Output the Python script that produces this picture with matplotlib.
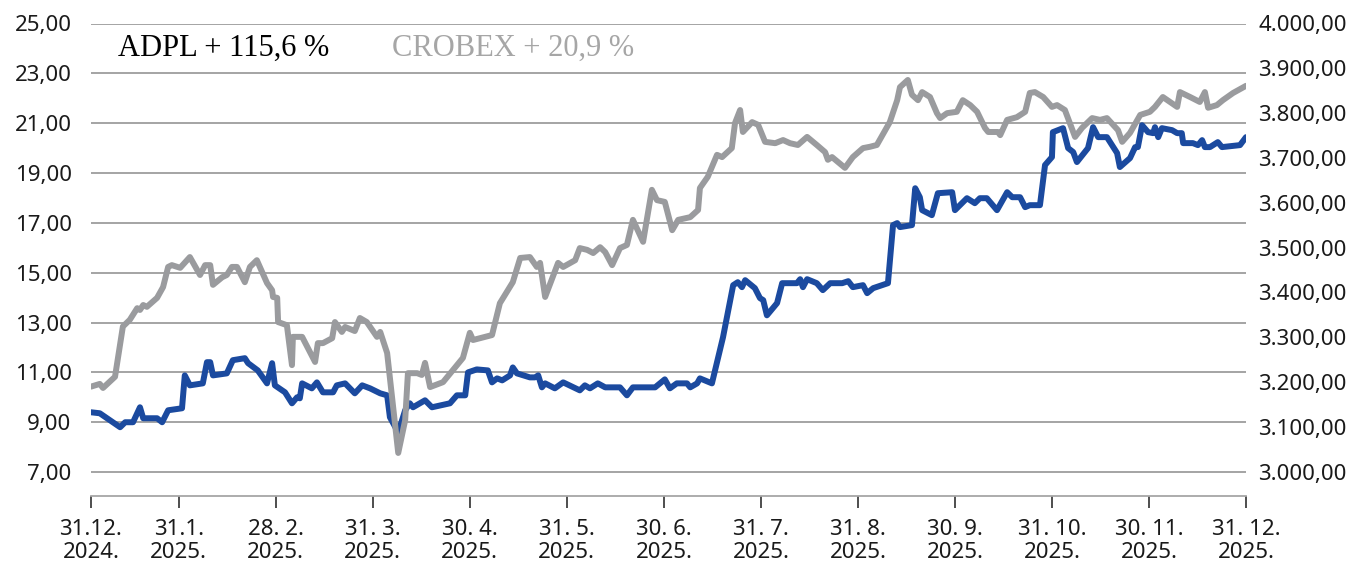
#!/usr/bin/env python3
"""ADPL share price vs CROBEX index, 31.12.2024 - 31.12.2025 (two y-axes)."""

import matplotlib
matplotlib.use('Agg')
import matplotlib.pyplot as plt

# x = trading-day index (0 = 31.12.2024, 250 = 31.12.2025)
adpl_x = [0, 1.9, 4.1, 6.3, 7.4, 9.1, 10.6, 11.3, 14.3, 15.4, 16.7, 19.7, 20.3, 21.4, 24.2,
          25.1, 25.8, 26.4, 29.4, 30.7, 33.3, 34.0, 36.1, 38.1, 39.2, 39.8, 42.0, 43.5, 44.6,
          45.2, 45.7, 47.8, 48.9, 50.2, 52.4, 53.2, 55.0, 57.1, 58.7, 60.4, 62.6, 64.1, 64.7,
          66.5, 68.0, 69.0, 69.7, 72.3, 73.8, 77.7, 79.2, 81.0, 81.6, 83.5, 85.9, 86.8, 87.9,
          89.0, 90.7, 91.3, 92.2, 95.0, 96.1, 96.8, 97.6, 98.3, 100.4, 102.2, 105.8, 106.9,
          108.0, 109.7, 111.3, 114.5, 116.0, 117.3, 122.1, 124.2, 125.3, 126.8, 129.0, 129.7,
          131.2, 131.8, 134.4, 136.8, 139.0, 140.0, 140.9, 141.6, 143.7, 144.8, 145.5, 146.3,
          148.5, 149.6, 152.8, 153.5, 154.1, 155.0, 157.1, 158.4, 160.0, 162.6, 163.9, 164.9,
          167.1, 168.0, 169.3, 172.5, 173.6, 174.5, 175.1, 177.7, 178.4, 179.4, 179.9, 182.0,
          183.3, 186.4, 187.0, 189.6, 191.3, 192.4, 193.9, 196.1, 198.3, 199.4, 201.1, 202.2,
          203.2, 205.4, 206.5, 208.0, 208.2, 210.4, 211.5, 212.6, 213.4, 215.8, 216.9, 218.0,
          219.9, 222.1, 222.7, 224.9, 226.0, 226.6, 227.5, 228.8, 229.9, 230.3, 231.0, 231.8,
          234.0, 235.1, 236.1, 236.4, 238.5, 239.6, 240.5, 241.1, 242.2, 243.9, 244.8, 248.7,
          250]
adpl = [9.40, 9.36, 9.08, 8.80, 9.00, 9.00, 9.60, 9.16, 9.16, 9.00, 9.48, 9.56, 10.88, 10.48,
        10.56, 11.41, 11.41, 10.88, 10.96, 11.49, 11.57, 11.37, 11.08, 10.56, 11.37, 10.48,
        10.20, 9.76, 10.00, 9.96, 10.56, 10.36, 10.60, 10.20, 10.20, 10.48, 10.56, 10.16,
        10.48, 10.36, 10.16, 10.08, 9.20, 8.59, 9.48, 9.76, 9.60, 9.88, 9.60, 9.76, 10.08,
        10.08, 11.00, 11.12, 11.08, 10.60, 10.76, 10.68, 10.88, 11.20, 10.96, 10.80, 10.80,
        10.88, 10.40, 10.56, 10.36, 10.60, 10.28, 10.48, 10.36, 10.56, 10.40, 10.40, 10.08,
        10.40, 10.40, 10.72, 10.36, 10.56, 10.56, 10.40, 10.56, 10.76, 10.56, 12.41, 14.50,
        14.62, 14.42, 14.70, 14.38, 13.98, 13.90, 13.29, 13.78, 14.58, 14.58, 14.74, 14.42,
        14.74, 14.58, 14.30, 14.58, 14.58, 14.66, 14.42, 14.50, 14.18, 14.38, 14.58, 16.91,
        16.99, 16.83, 16.91, 18.39, 18.03, 17.51, 17.31, 18.19, 18.23, 17.51, 17.99, 17.79,
        17.99, 17.99, 17.51, 18.23, 18.03, 18.03, 17.63, 17.71, 17.71, 19.32, 19.64, 20.64,
        20.80, 20.00, 19.84, 19.44, 20.00, 20.84, 20.44, 20.44, 19.80, 19.24, 19.60, 20.04,
        20.04, 20.92, 20.64, 20.60, 20.84, 20.44, 20.80, 20.72, 20.60, 20.60, 20.20, 20.20,
        20.12, 20.32, 20.04, 20.04, 20.24, 20.04, 20.12, 20.44]

crobex_x = [0, 1.9, 2.6, 5.2, 6.9, 8.4, 10.0, 10.6, 11.3, 12.1, 14.3, 15.6, 16.7, 17.5, 19.3,
            21.4, 23.6, 24.7, 25.8, 26.4, 28.4, 29.4, 30.5, 31.6, 33.3, 34.4, 35.9, 38.1, 39.2,
            39.4, 40.3, 40.5, 42.4, 43.5, 43.7, 45.7, 48.5, 49.1, 50.2, 52.2, 52.8, 54.3, 55.0,
            57.1, 58.2, 59.7, 61.9, 62.6, 64.1, 66.5, 68.0, 68.6, 70.6, 71.6, 72.3, 73.4, 76.2,
            80.5, 82.0, 82.7, 86.8, 88.5, 91.3, 92.9, 95.0, 96.5, 97.2, 98.3, 101.1, 102.2,
            104.8, 105.8, 107.4, 108.7, 110.2, 111.3, 112.8, 114.5, 116.0, 117.3, 119.5, 121.4,
            122.5, 124.2, 125.8, 127.1, 129.7, 131.4, 131.8, 133.5, 135.5, 136.6, 138.7, 139.4,
            140.5, 141.1, 143.1, 144.4, 145.9, 148.1, 149.8, 151.3, 153.0, 155.0, 157.1, 158.9,
            159.5, 160.4, 163.2, 164.9, 167.1, 168.6, 170.1, 172.9, 174.5, 175.1, 176.8, 177.7,
            179.0, 179.9, 181.6, 183.1, 183.8, 185.3, 187.4, 188.7, 190.3, 191.8, 193.5, 194.2,
            196.3, 196.8, 198.3, 200.4, 202.2, 203.2, 204.3, 206.1, 208.0, 209.1, 210.8, 213.0,
            214.5, 216.7, 218.4, 219.9, 222.3, 223.2, 224.9, 227.1, 229.2, 230.3, 232.0, 235.1,
            235.7, 237.9, 240.0, 241.1, 241.8, 243.7, 245.0, 247.2, 250]
crobex = [3190, 3196, 3187, 3212, 3324, 3339, 3365, 3361, 3372, 3368, 3388, 3412, 3457, 3461,
          3455, 3479, 3439, 3461, 3461, 3417, 3434, 3439, 3457, 3457, 3423, 3457, 3472, 3421,
          3405, 3390, 3388, 3334, 3327, 3238, 3301, 3301, 3245, 3287, 3287, 3298, 3334, 3312,
          3323, 3314, 3343, 3334, 3301, 3312, 3265, 3042, 3115, 3220, 3220, 3216, 3243, 3189,
          3200, 3254, 3310, 3294, 3305, 3376, 3423, 3477, 3479, 3457, 3466, 3390, 3466, 3457,
          3472, 3499, 3495, 3488, 3501, 3490, 3461, 3499, 3506, 3562, 3513, 3629, 3606, 3602,
          3539, 3562, 3568, 3584, 3633, 3658, 3707, 3702, 3722, 3778, 3807, 3758, 3780, 3774,
          3736, 3733, 3740, 3733, 3729, 3747, 3729, 3713, 3696, 3702, 3678, 3702, 3722, 3725,
          3729, 3780, 3829, 3858, 3874, 3841, 3829, 3847, 3836, 3800, 3789, 3800, 3803, 3829,
          3818, 3803, 3767, 3758, 3758, 3751, 3785, 3791, 3803, 3845, 3847, 3836, 3814, 3818,
          3807, 3747, 3767, 3789, 3785, 3789, 3762, 3736, 3756, 3796, 3803, 3814, 3836, 3814,
          3847, 3836, 3825, 3847, 3812, 3818, 3829, 3845, 3861]

tick_pos = [0, 19, 40, 61, 82, 103, 124, 145, 166, 187, 208, 229, 250]
tick_labels = ['31.12.\n2024.', '31.1.\n2025.', '28. 2.\n2025.', '31. 3.\n2025.',
               '30. 4.\n2025.', '31. 5.\n2025.', '30. 6.\n2025.', '31. 7.\n2025.',
               '31. 8.\n2025.', '30. 9.\n2025.', '31. 10.\n2025.', '30. 11.\n2025.',
               '31. 12.\n2025.']
left_ticks = [7, 9, 11, 13, 15, 17, 19, 21, 23, 25]
right_ticks = [3000, 3100, 3200, 3300, 3400, 3500, 3600, 3700, 3800, 3900, 4000]

BLUE = '#1b4a9f'
GREY = '#9a9b9e'


def hr_num(v):
    # 4000 -> 4.000,00
    s = f'{v:,.2f}'
    return s.replace(',', 'X').replace('.', ',').replace('X', '.')


def main():
    plt.rcParams['font.family'] = ['Noto Sans', 'DejaVu Sans']
    fig = plt.figure(figsize=(13.5, 5.68), dpi=100)
    ax = fig.add_axes([91 / 1350, 72 / 568, 1155 / 1350, 472.5 / 568])
    ax2 = ax.twinx()

    ax.plot(adpl_x, adpl, color=BLUE, lw=4.3, solid_joinstyle='round',
            solid_capstyle='round', zorder=3)
    ax2.plot(crobex_x, crobex, color=GREY, lw=4.3, solid_joinstyle='round',
             solid_capstyle='round')

    ax.set_xlim(0, 250)
    ax.set_ylim(6.04, 25)
    ax2.set_ylim(2946, 4000)

    ax.set_yticks(left_ticks)
    ax.set_yticklabels([hr_num(v) for v in left_ticks], fontsize=16)
    ax2.set_yticks(right_ticks)
    ax2.set_yticklabels([hr_num(v) for v in right_ticks], fontsize=16)
    ax.set_xticks(tick_pos)
    ax.set_xticklabels(tick_labels, fontsize=16, linespacing=1.15)

    ax.grid(axis='y', color='#8c8c8c', lw=1.1)
    ax.set_axisbelow(True)
    for a in (ax, ax2):
        for side in ('left', 'right', 'top'):
            a.spines[side].set_visible(False)
    ax.spines['bottom'].set_color('#a6a6a6')
    ax.spines['bottom'].set_linewidth(1.3)
    ax2.spines['bottom'].set_visible(False)

    ax.tick_params(axis='y', length=0, pad=14, labelcolor='#1a1a1a')
    ax2.tick_params(axis='y', length=0, pad=9, labelcolor='#1a1a1a')
    ax.tick_params(axis='x', length=8.5, width=1.3, color='#404040', pad=8,
                   labelcolor='#1a1a1a')

    fig.text(118 / 1350, 1 - 48 / 568, 'ADPL + 115,6 %', family='Liberation Serif',
             fontsize=22, color='black', va='center', ha='left')
    fig.text(392 / 1350, 1 - 48 / 568, 'CROBEX + 20,9 %', family='Liberation Serif',
             fontsize=22, color='#a6a6a6', va='center', ha='left')

    fig.savefig('out.png', dpi=100)
    plt.close(fig)
    print('Saved out.png')


if __name__ == '__main__':
    main()
